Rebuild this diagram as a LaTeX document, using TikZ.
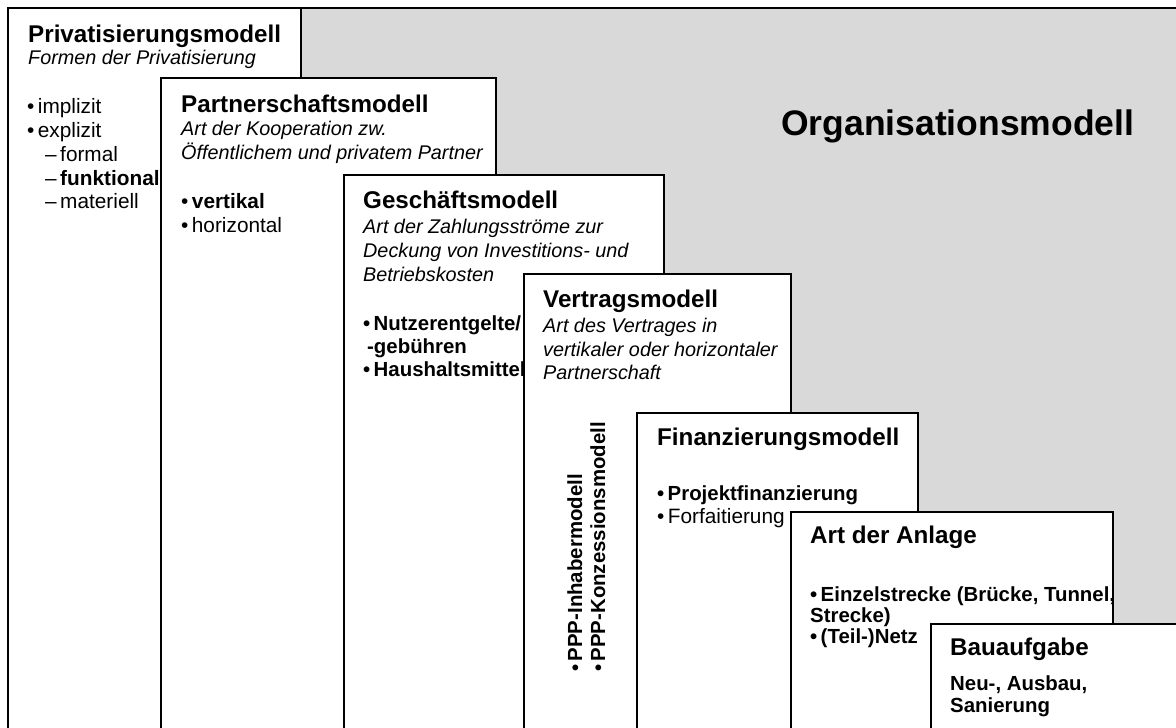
\documentclass[tikz,border=0pt]{standalone}
\usepackage{fontspec}
\setmainfont{Liberation Sans}
\definecolor{orggrau}{RGB}{217,217,217}
\tikzset{
  box/.style={draw=black, line width=1.6pt, fill=white},
  titel/.style={anchor=base west, inner sep=0pt, font=\fontsize{24.2}{28}\selectfont\bfseries},
  unter/.style={anchor=base west, inner sep=0pt, font=\fontsize{19.8}{23}\selectfont\itshape},
  punkt/.style={anchor=base west, inner sep=0pt, font=\fontsize{20.8}{24}\selectfont},
  punktb/.style={punkt, font=\fontsize{20.4}{24}\selectfont\bfseries},
}
\begin{document}
\begin{tikzpicture}[x=1pt,y=-1pt]
  \useasboundingbox (0,0) rectangle (1176,728);
  \clip (0,0) rectangle (1176,728);
  % Organisationsmodell
  \draw[box, fill=orggrau] (8,8) rectangle (1200,760);
  \node[titel, font=\fontsize{35.5}{40}\selectfont\bfseries] (org) at (781,135) {Organisationsmodell};
  % Privatisierungsmodell
  \draw[box] (8,8) rectangle (301,760);
  \node[titel] (priv) at (28,42) {Privatisierungsmodell};
  \node[unter] (privu) at (28,64) {Formen der Privatisierung};
  \node[punkt] (impl) at (27,113) {•\,implizit};
  \node[punkt] (expl) at (27,137) {•\,explizit};
  \node[punkt] (form) at (45,161) {–\,formal};
  \node[punkt] (funk) at (45,185) {–\,\textbf{funktional}};
  \node[punkt] (mat) at (45,208) {–\,materiell};
  % Partnerschaftsmodell
  \draw[box] (161,78) rectangle (496,760);
  \node[titel] (part) at (181,112) {Partnerschaftsmodell};
  \node[unter] (partu1) at (181,135) {Art der Kooperation zw.};
  \node[unter] (partu2) at (181,159) {Öffentlichem und privatem Partner};
  \node[punkt] (vert) at (181,208) {•\,\textbf{vertikal}};
  \node[punkt] (hori) at (181,232) {•\,horizontal};
  % Geschaeftsmodell
  \draw[box] (344,175) rectangle (664,760);
  \node[titel] (gesch) at (363,208) {Geschäftsmodell};
  \node[unter] (geschu1) at (363,233) {Art der Zahlungsströme zur};
  \node[unter] (geschu2) at (363,257) {Deckung von Investitions- und};
  \node[unter] (geschu3) at (363,281) {Betriebskosten};
  \node[punktb] (nutz) at (363,330) {•\,Nutzerentgelte/};
  \node[punktb] (geb) at (367,353) {-gebühren};
  \node[punktb] (haus) at (363,376) {•\,Haushaltsmittel};
  % Vertragsmodell
  \draw[box] (524,274) rectangle (791,760);
  \node[titel] (vertr) at (543,307) {Vertragsmodell};
  \node[unter] (vertru1) at (543,332) {Art des Vertrages in};
  \node[unter] (vertru2) at (543,356) {vertikaler oder horizontaler};
  \node[unter] (vertru3) at (543,379) {Partnerschaft};
  \node[punktb, rotate=90] (inh) at (582,672) {•\,PPP-Inhabermodell};
  \node[punktb, rotate=90] (konz) at (605,672) {•\,PPP-Konzessionsmodell};
  % Finanzierungsmodell
  \draw[box] (637,413) rectangle (918,760);
  \node[titel] (fin) at (657,445) {Finanzierungsmodell};
  \node[punktb] (proj) at (657,500) {•\,Projektfinanzierung};
  \node[punkt] (forf) at (657,523) {•\,Forfaitierung};
  % Art der Anlage
  \draw[box] (791,512) rectangle (1113,760);
  \node[titel] (anl) at (810,543) {Art der Anlage};
  \node[punktb] (einz) at (810,601) {•\,Einzelstrecke (Brücke, Tunnel,};
  \node[punktb] (str) at (810,622) {Strecke)};
  \node[punktb] (netz) at (810,643) {•\,(Teil-)Netz};
  % Bauaufgabe
  \draw[box] (931,624) rectangle (1200,760);
  \node[titel] (bau) at (950,655) {Bauaufgabe};
  \node[punktb] (neu) at (950,690) {Neu-, Ausbau,};
  \node[punktb] (san) at (950,712) {Sanierung};
\end{tikzpicture}
\end{document}
